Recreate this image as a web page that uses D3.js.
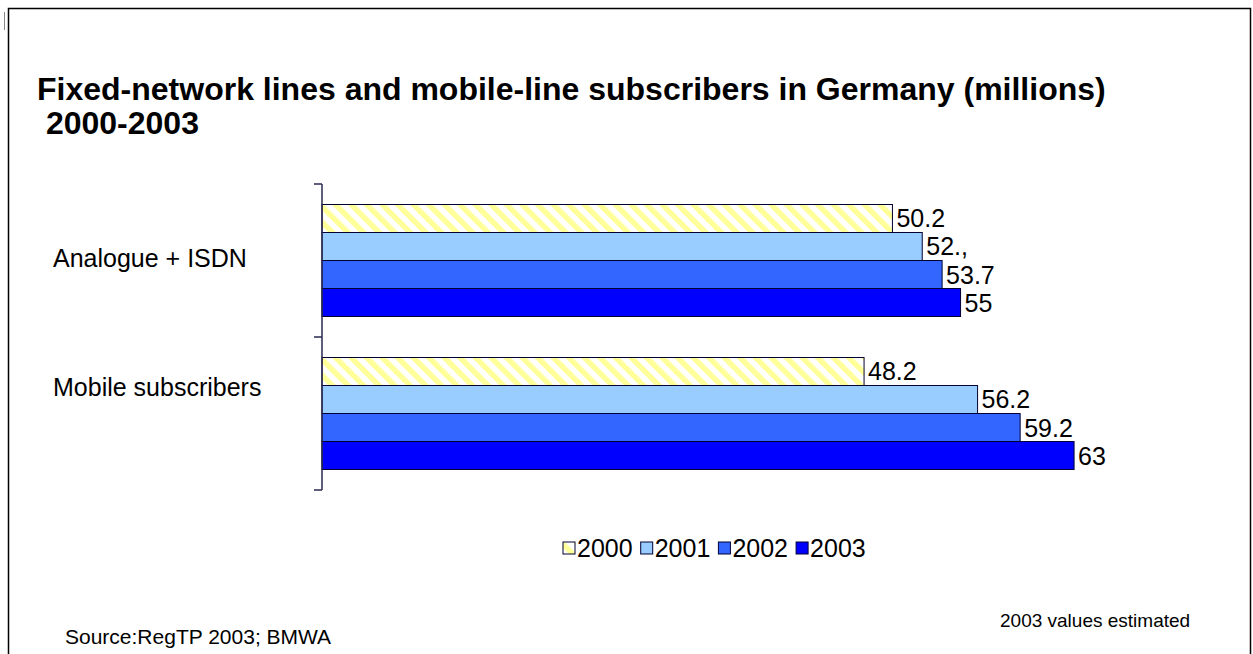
<!DOCTYPE html>
<html>
<head>
<meta charset="utf-8">
<script src="https://cdn.jsdelivr.net/npm/d3@7"></script>
<style>
  html, body { margin: 0; padding: 0; background: #fff; }
  svg { display: block; font-family: "Liberation Sans", Arial, sans-serif; }
</style>
</head>
<body>
<svg id="chart" width="1253" height="654"></svg>
<script>
// ---- data ----
const categories = ["Analogue + ISDN", "Mobile subscribers"];
const years = ["2000", "2001", "2002", "2003"];
const values2000 = [50.2, 48.2];
const values2001 = [52.3, 56.2];
const values2002 = [53.7, 59.2];
const values2003 = [55, 63];
const labels2000 = ["50.2", "48.2"];
const labels2001 = ["52.,", "56.2"];
const labels2002 = ["53.7", "59.2"];
const labels2003 = ["55", "63"];
const seriesColors = ["url(#stripes)", "#99ccff", "#3366ff", "#0000ff"];
const titleLines = ["Fixed-network lines and mobile-line subscribers in Germany (millions)", " 2000-2003"];
const sourceText = "Source:RegTP 2003; BMWA";
const noteText = "2003 values estimated";

const seriesValues = [values2000, values2001, values2002, values2003];
const seriesLabels = [labels2000, labels2001, labels2002, labels2003];

const svg = d3.select("#chart");

// pattern for 2000
const defs = svg.append("defs");
const pat = defs.append("pattern")
  .attr("id", "stripes")
  .attr("patternUnits", "userSpaceOnUse")
  .attr("width", 11).attr("height", 11)
  .attr("patternTransform", "rotate(-45)");
pat.append("rect").attr("width", 11).attr("height", 11).attr("fill", "#ffffff");
pat.append("rect").attr("width", 5.5).attr("height", 11).attr("fill", "#ffff99");

// frame
svg.append("path")
  .attr("d", "M8.5,654 L8.5,8.5 L1250.5,8.5 L1250.5,654")
  .attr("fill", "none").attr("stroke", "#000").attr("stroke-width", 1.5);
svg.append("line").attr("x1", 4.5).attr("x2", 4.5).attr("y1", 12).attr("y2", 30)
  .attr("stroke", "#888").attr("stroke-width", 1);

// title
const title = svg.append("g");
title.selectAll("text").data(titleLines).join("text")
  .attr("x", 37).attr("y", (d, i) => 100 + i * 34)
  .attr("font-size", 32).attr("font-weight", "bold").attr("fill", "#000")
  .style("white-space", "pre")
  .text(d => d);

// scales
const x = d3.scaleLinear().domain([10, 70]).range([322, 1173.4]);
const y0 = d3.scaleBand().domain(categories).range([184, 490]).padding(0);
const y1 = d3.scaleBand().domain(years).range([0, y0.bandwidth()])
  .paddingInner(0).paddingOuter(0.732);

// bars
const groups = svg.append("g").selectAll("g").data(categories).join("g")
  .attr("transform", d => `translate(0,${y0(d)})`);

years.forEach((yr, si) => {
  groups.append("rect")
    .attr("x", x(10))
    .attr("y", y1(yr))
    .attr("width", (d, ci) => x(seriesValues[si][ci]) - x(10))
    .attr("height", y1.bandwidth())
    .attr("fill", seriesColors[si])
    .attr("stroke", "#000033")
    .attr("stroke-width", 1);
  groups.append("text")
    .attr("x", (d, ci) => x(seriesValues[si][ci]) + 4)
    .attr("y", y1(yr) + y1.bandwidth() / 2)
    .attr("dy", "0.36em")
    .attr("font-size", 25)
    .attr("fill", "#000")
    .text((d, ci) => seriesLabels[si][ci]);
});

// axis (category axis with ticks at band boundaries)
const axisG = svg.append("g");
axisG.append("line")
  .attr("x1", x(10)).attr("x2", x(10))
  .attr("y1", y0.range()[0]).attr("y2", y0.range()[1])
  .attr("stroke", "#2a2a50").attr("stroke-width", 1.5);
const boundaries = categories.map(c => y0(c)).concat([y0.range()[1]]);
axisG.selectAll("line.tick").data(boundaries).join("line")
  .attr("class", "tick")
  .attr("x1", x(10) - 8).attr("x2", x(10))
  .attr("y1", d => d).attr("y2", d => d)
  .attr("stroke", "#2a2a50").attr("stroke-width", 1.5);

// category labels
const catLabelOffsets = [6, -18];
svg.append("g").selectAll("text").data(categories).join("text")
  .attr("x", 53)
  .attr("y", (d, i) => y0(d) + y0.bandwidth() / 2 + catLabelOffsets[i])
  .attr("font-size", 25).attr("fill", "#000")
  .text(d => d);

// legend
const legend = svg.append("g").attr("transform", "translate(563,548)");
const legItems = legend.selectAll("g").data(years).join("g")
  .attr("transform", (d, i) => `translate(${i * 77.7},0)`);
legItems.append("rect")
  .attr("x", 0).attr("y", -6).attr("width", 12).attr("height", 12)
  .attr("fill", (d, i) => seriesColors[i])
  .attr("stroke", "#000033").attr("stroke-width", 1);
legItems.append("text")
  .attr("x", 14).attr("y", 0).attr("dy", "0.36em")
  .attr("font-size", 25).attr("fill", "#000")
  .text(d => d);

// notes
svg.append("text").attr("x", 1000).attr("y", 627)
  .attr("font-size", 19).attr("fill", "#000").text(noteText);
svg.append("text").attr("x", 65).attr("y", 644)
  .attr("font-size", 21).attr("fill", "#000").text(sourceText);
</script>
</body>
</html>
